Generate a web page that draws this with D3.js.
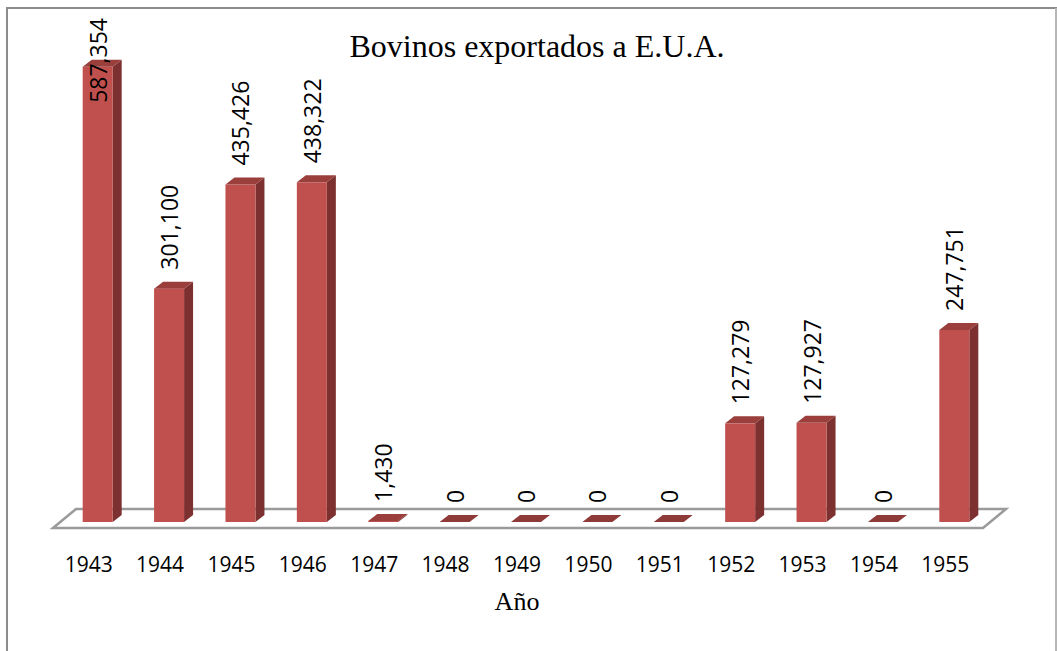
<!DOCTYPE html>
<html>
<head>
<meta charset="utf-8">
<script src="https://cdn.jsdelivr.net/npm/d3@7"></script>
<style>
  body { margin: 0; background: #fff; }
</style>
</head>
<body>
<svg id="chart" width="1057" height="651"></svg>
<script>
// Data
var years = ["1943", "1944", "1945", "1946", "1947", "1948", "1949", "1950", "1951", "1952", "1953", "1954", "1955"];
var cattle = [587354, 301100, 435426, 438322, 1430, 0, 0, 0, 0, 127279, 127927, 0, 247751];
var chartTitle = "Bovinos exportados a E.U.A.";
var xTitle = "Año";

var svg = d3.select("#chart");

// frame of the chart area
svg.append("rect")
    .attr("x", 7).attr("y", 8)
    .attr("width", 1049).attr("height", 660)
    .style("fill", "#fff")
    .style("stroke", "#8c8c8c")
    .style("stroke-width", 2);
svg.append("line")
    .attr("x1", 1056).attr("x2", 1056).attr("y1", 8).attr("y2", 651)
    .style("stroke", "#c4c4c4").style("stroke-width", 1.5);

// 3d settings
var depthX = 9, depthY = -7;          // bar depth
var floorDX = 23, floorDY = -19;      // floor depth
var barW = 30;

// scales
var x = d3.scaleBand()
    .domain(years)
    .range([53, 981]);
var y = d3.scaleLinear()
    .domain([0, 600000])
    .range([522, 57]);

var barLeft = function(d, i) { return x(years[i]) + x.bandwidth() / 2 - barW / 2 + 9; };

// floor
var floorFront = 528;
var fl = x.range();
svg.append("path")
    .attr("d", "M" + fl[0] + "," + floorFront +
               "L" + (fl[0] + floorDX) + "," + (floorFront + floorDY) +
               "L" + (fl[1] + floorDX + 2) + "," + (floorFront + floorDY) +
               "L" + (fl[1] + 2) + "," + floorFront + "Z")
    .style("fill", "#fff")
    .style("stroke", "#9a9a9a")
    .style("stroke-width", 2.5);

// bars
var bars = svg.selectAll(".bar")
    .data(cattle)
    .enter()
    .append("g")
    .attr("class", "bar");

bars.each(function(d, i) {
    var g = d3.select(this);
    var x0 = barLeft(d, i), x1 = x0 + barW;
    var yb = y(0), yt = y(d);
    if (yb - yt > 0.5) {
        // side face
        g.append("path")
            .attr("d", "M" + x1 + "," + yb + "L" + (x1 + depthX) + "," + (yb + depthY) +
                       "L" + (x1 + depthX) + "," + (yt + depthY) + "L" + x1 + "," + yt + "Z")
            .style("fill", "#7c3030");
        // front face
        g.append("rect")
            .attr("x", x0).attr("y", yt)
            .attr("width", barW).attr("height", yb - yt)
            .style("fill", "#c0504d");
    }
    // top face
    g.append("path")
        .attr("d", "M" + x0 + "," + yt + "L" + (x0 + depthX) + "," + (yt + depthY) +
                   "L" + (x1 + depthX) + "," + (yt + depthY) + "L" + x1 + "," + yt + "Z")
        .style("fill", yb - yt > 0.5 ? "#9a3f3c" : "#8e3a39");
});

// data labels, rotated
var fmt = d3.format(",");
bars.each(function(d, i) {
    var cx = barLeft(d, i) + barW / 2 + 1;
    var t = d3.select(this).append("text")
        .style("font-family", "'Open Sans', sans-serif")
        .style("font-size", "23px")
        .style("fill", "#000")
        .text(fmt(d));
    var len = t.node().getComputedTextLength();
    var startY = Math.max(y(d) - 19, 18 + len);
    t.attr("transform", "translate(" + (cx + 8) + "," + startY + ") rotate(-90)");
});

// x axis labels
svg.append("g")
    .attr("transform", "translate(0,572)")
    .call(d3.axisBottom(x).tickSize(0).tickPadding(0))
    .call(function(g) { g.select(".domain").remove(); })
    .selectAll("text")
    .attr("dy", 0)
    .style("font-family", "'Open Sans', sans-serif")
    .style("font-size", "21px")
    .style("fill", "#000");

// title
svg.append("text")
    .attr("x", 537).attr("y", 57)
    .attr("text-anchor", "middle")
    .style("font-family", "'Liberation Serif', serif")
    .style("font-size", "32px")
    .text(chartTitle);

// x axis title
svg.append("text")
    .attr("x", 517).attr("y", 610)
    .attr("text-anchor", "middle")
    .style("font-family", "'Liberation Serif', serif")
    .style("font-size", "26px")
    .text(xTitle);
</script>
</body>
</html>
